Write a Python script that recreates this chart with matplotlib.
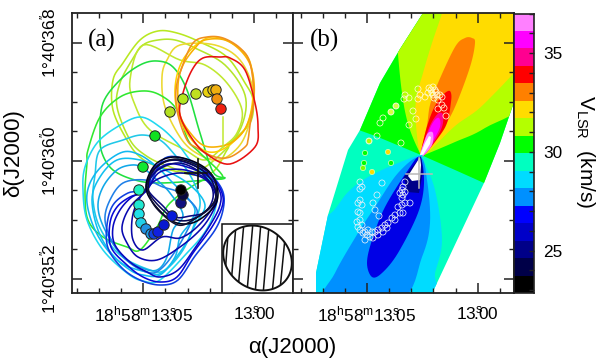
import numpy as np
import matplotlib
matplotlib.use("Agg")
import matplotlib.pyplot as plt
from matplotlib.colors import ListedColormap, BoundaryNorm
from matplotlib.patches import Polygon
from matplotlib.ticker import FixedLocator, FuncFormatter

plt.rcParams['font.family'] = ['Liberation Sans', 'DejaVu Sans']
plt.rcParams['mathtext.fontset'] = 'custom'
plt.rcParams['mathtext.rm'] = 'Liberation Sans'
plt.rcParams['mathtext.default'] = 'regular'

# ---- velocity colour scale (km/s), 16 channels from low to high
band_colors = ['#000000', '#000048', '#000088', '#0000c8', '#0000ff', '#0090ff', '#00dcff', '#00ffc0',
               '#00ff00', '#b4ff00', '#ffdc00', '#ff8000', '#ff0000', '#ff0090', '#ff00ff', '#ff80ff']
v_min, v_max = 22.85, 37.0
cbar_ticks = list(range(23, 38))
cbar_labels = {25: '25', 30: '30', 35: '35'}

# ---- positions digitised from the plate, as (x, y) readings
# calibration: 13.05 s at x0, 2214 readings per second; 36.0" at y=160.7, 147.5 readings per arcsec
X0_A, X0_B = 143.3, 367.0

# panel (b): model velocity field, lowest layer first
field_outline = [(316, 300), (316, 273), (328, 215), (348, 150), (360, 130), (380, 83), (400, 49), (423, 13),
                 (520, 13), (514, 102), (500, 143), (484, 183), (429, 300)]
layer_aqua = [(290, 5), (530, 5), (530, 300), (290, 300)]
layer_green = [(345, 125), (378, 137), (421, 155), (455, 170), (484, 183), (530, 190), (530, 5), (345, 5)]
layer_yellowgreen = [(421, 155), (409, 127), (402, 93), (397, 40), (397, 5), (530, 5), (530, 95), (485, 128),
                     (455, 142), (424, 155)]
layer_gold = [(420, 153), (416, 125), (416, 100), (423, 73), (432, 43), (442, 13), (442, 5), (530, 5), (530, 50),
              (485, 103), (455, 126), (427, 153)]
layer_orange = [(421, 152), (427, 125), (430, 105), (438, 83), (455, 47), (465, 38), (472, 38), (475, 43),
                (470, 67), (455, 107), (442, 130), (425, 154)]
layer_red = [(421, 153), (426, 130), (433, 110), (441, 97), (448, 91), (451, 93), (451, 102), (447, 123),
             (438, 138), (424, 155)]
layer_deeppink = [(421, 154), (427, 133), (433, 120), (439, 113), (443, 115), (442, 127), (434, 142), (424, 155)]
layer_magenta = [(421, 154), (428, 133), (434, 121), (439, 118), (440, 127), (432, 143), (424, 155)]
layer_pink = [(420, 155), (424, 142), (428, 133), (433, 133), (432, 145), (423, 156)]
layer_white = [(420, 155), (425, 143), (429, 136), (431, 137), (430, 144), (423, 155)]
layer_cyan = [(300, 215), (328, 215), (348, 192), (368, 177), (398, 163), (421, 155), (423, 160), (435, 190),
              (442, 240), (435, 273), (427, 300), (300, 300)]
layer_dodger = [(326, 300), (335, 273), (358, 233), (375, 207), (398, 173), (420, 157), (427, 180), (430, 223),
                (422, 257), (400, 300)]
layer_blue = [(372, 277), (367, 263), (372, 240), (385, 207), (408, 170), (420, 157), (424, 183), (418, 213),
              (398, 253), (382, 273)]
layer_navy = [(421, 156), (404, 177), (407, 192), (419, 193), (423, 172)]
layer_core = [(420, 157), (408, 176), (412, 181), (420, 180), (421, 165)]

field_layers = [(layer_aqua, '#00ffc0', False), (layer_green, '#00ff00', False), (layer_yellowgreen, '#b4ff00', True),
                (layer_gold, '#ffdc00', True), (layer_orange, '#ff8000', True), (layer_red, '#ff0000', True),
                (layer_deeppink, '#ff0090', True), (layer_magenta, '#ff00ff', True), (layer_pink, '#ff80ff', True),
                (layer_white, '#ffffff', False), (layer_cyan, '#00dcff', True), (layer_dodger, '#0090ff', True),
                (layer_blue, '#0000e6', True), (layer_navy, '#000088', False), (layer_core, '#ffffff', False)]

# panel (b): maser spots
rings_low = [(405, 182), (403, 187), (402, 190), (405, 192), (400, 193), (403, 195), (402, 198), (405, 203), (410, 203),
             (402, 205), (398, 207), (400, 213), (403, 213), (395, 215), (392, 218), (395, 220), (388, 223), (385, 225),
             (387, 228), (382, 228), (378, 230), (383, 232), (375, 232), (372, 232), (378, 235), (370, 237), (373, 238),
             (367, 235), (365, 232), (363, 233), (365, 240), (368, 230), (360, 230), (358, 227), (357, 222), (362, 225),
             (360, 220), (360, 213), (358, 212), (362, 205), (358, 203), (360, 200), (373, 203), (375, 210), (377, 195),
             (382, 183), (360, 182), (362, 187), (360, 189), (379, 216)]
rings_high = [(369, 141), (377, 136), (380, 123), (383, 118), (391, 112), (396, 106), (404, 99), (409, 98), (413, 111),
              (416, 119), (409, 125), (401, 143), (418, 89), (418, 99), (420, 95), (425, 97), (429, 88), (433, 87),
              (435, 90), (432, 93), (437, 95), (440, 95), (434, 98), (442, 97), (438, 100), (442, 105), (444, 108),
              (438, 109), (446, 116), (405, 95), (431, 90), (436, 92), (433, 95), (428, 93)]
dots_b = [(388, 152, '#ffdc00'), (372, 172, '#ffdc00'), (365, 153, '#00ff00'), (364, 163, '#00ff00'),
          (363, 168, '#80ff00'), (391, 163, '#00ff00'), (369, 141, '#b4ff00'), (391, 112, '#d8ff40'),
          (396, 106, '#d8ff40')]
cross_x = [406, 432]
cross_y = [158, 188]
cross_at = (419, 174.5)

# panel (a): channel contours (outermost/reddest drawn first)
c_yg1 = [(158, 31), (177, 33), (200, 42), (227, 57), (245, 83), (253, 100), (250, 123), (230, 143), (227, 150),
         (207, 175), (160, 167), (140, 157), (127, 140), (113, 110), (113, 80), (123, 63), (140, 40)]
c_yg2 = [(158, 40), (143, 45), (132, 60), (120, 83), (117, 107), (130, 140), (145, 155), (165, 165), (195, 172),
         (225, 150), (242, 125), (245, 95), (225, 65), (195, 48), (175, 40)]
c_yg3 = [(143, 45), (180, 60), (205, 65), (227, 83), (242, 110), (237, 133), (223, 147), (205, 160), (185, 150),
         (150, 130), (135, 105), (130, 80)]
c_yellow = [(180, 45), (167, 60), (162, 77), (165, 107), (182, 140), (200, 155), (220, 160), (240, 145), (250, 120),
            (253, 90), (240, 60), (215, 45)]
c_gold = [(200, 42), (215, 37), (235, 45), (250, 62), (253, 95), (247, 125), (232, 143), (215, 152), (200, 148),
          (185, 130), (176, 105), (176, 80), (184, 58)]
c_gold2 = [(205, 40), (225, 40), (242, 52), (252, 70), (254, 97), (247, 125), (235, 140), (222, 146), (205, 146),
           (192, 135), (180, 115), (178, 85), (183, 65), (195, 48)]
c_orange = [(207, 37), (223, 38), (240, 48), (250, 63), (254, 97), (250, 125), (248, 140), (245, 147), (230, 157),
            (215, 157), (197, 148), (187, 140), (178, 115), (176, 90), (182, 67), (193, 43)]
c_red = [(220, 57), (203, 58), (192, 70), (183, 93), (180, 115), (193, 140), (208, 155), (230, 164), (255, 147),
         (258, 127), (255, 103), (245, 70), (230, 58)]
c_green1 = [(157, 61), (140, 65), (120, 80), (103, 103), (100, 133), (102, 153), (113, 170), (135, 180), (160, 183),
            (207, 180), (225, 178), (213, 172), (200, 133), (187, 90), (173, 67)]
c_green2 = [(142, 91), (160, 95), (177, 110), (188, 140), (200, 153), (223, 177), (203, 180), (170, 203), (157, 227),
            (140, 250), (127, 247), (103, 237), (88, 220), (85, 193), (87, 163), (88, 150), (100, 117), (120, 97)]
c_cyan1 = [(140, 117), (117, 127), (97, 143), (85, 167), (83, 190), (87, 220), (103, 250), (127, 273), (143, 281),
           (160, 280), (187, 253), (205, 232), (215, 210), (216, 190), (205, 175), (190, 160), (177, 143), (160, 127)]
c_cyan2 = [(142, 135), (123, 140), (100, 150), (95, 175), (93, 200), (100, 228), (120, 255), (150, 270), (165, 270),
           (183, 250), (195, 222), (200, 200), (190, 175), (175, 155), (160, 140)]
c_sky1 = [(123, 152), (103, 165), (90, 183), (87, 203), (95, 230), (110, 253), (130, 270), (143, 275), (160, 275),
          (175, 257), (180, 237), (190, 223), (195, 210), (187, 197), (173, 183), (157, 167), (140, 155)]
c_sky2 = [(132, 165), (117, 170), (103, 187), (98, 207), (105, 230), (123, 257), (142, 268), (157, 270), (167, 257),
          (173, 230), (183, 215), (170, 193), (157, 180), (143, 168)]
c_sky3 = [(145, 180), (123, 183), (110, 200), (105, 220), (113, 243), (130, 263), (150, 273), (163, 267), (178, 247),
          (190, 225), (197, 210), (180, 193), (163, 187)]
c_sky4 = [(117, 160), (100, 177), (92, 200), (100, 235), (120, 262), (147, 272), (163, 272), (185, 245), (195, 225),
          (205, 205), (190, 185), (165, 170), (140, 160)]
c_blue3 = [(147, 188), (128, 193), (113, 205), (107, 225), (108, 248), (122, 268), (140, 280), (160, 285), (178, 280),
           (195, 256), (215, 230), (223, 210), (223, 192), (212, 176), (193, 162), (165, 158)]
c_blue1 = [(147, 190), (130, 197), (117, 207), (110, 223), (111, 247), (127, 265), (143, 277), (160, 282), (177, 277),
           (193, 253), (212, 227), (222, 207), (222, 193), (212, 177), (193, 165), (170, 160), (152, 170)]
c_blue2 = [(147, 190), (132, 197), (120, 210), (113, 227), (115, 245), (130, 262), (147, 272), (160, 277), (178, 270),
           (195, 248), (212, 222), (220, 205), (220, 192), (210, 178), (190, 168), (168, 164), (152, 175)]
c_blue4 = [(147, 190), (130, 207), (122, 227), (127, 243), (138, 257), (157, 260), (180, 247), (200, 230), (212, 213),
           (217, 197), (208, 180), (185, 170), (160, 172)]
c_blue5 = [(148, 187), (137, 203), (132, 220), (133, 240), (143, 250), (162, 237), (180, 238), (197, 227), (213, 207),
           (215, 193), (203, 178), (180, 173), (160, 178)]
c_navy1 = [(147, 185), (158, 170), (178, 163), (197, 170), (210, 183), (213, 198), (205, 212), (190, 216), (175, 217),
           (162, 205), (150, 193)]
c_navy2 = [(147, 183), (158, 166), (175, 160), (195, 166), (210, 178), (216, 195), (210, 208), (193, 219), (177, 220),
           (163, 210), (150, 195)]
c_black1 = [(147, 180), (157, 163), (175, 157), (197, 163), (212, 175), (218, 193), (213, 208), (195, 222), (177, 223),
            (162, 213), (148, 195)]
c_black2 = [(149, 178), (159, 165), (177, 159), (199, 166), (214, 178), (216, 195), (211, 206), (193, 220), (178, 225),
            (160, 212), (150, 197)]

contours_a = [(c_yg1, '#b8e820'), (c_yg2, '#b4e62a'), (c_yg3, '#c0e830'), (c_yellow, '#ecd830'), (c_green1, '#20e040'),
              (c_green2, '#30e830'), (c_gold, '#ffd000'), (c_gold2, '#f8b000'), (c_orange, '#f09020'), (c_red, '#e81010'),
              (c_cyan1, '#20d8f0'), (c_cyan2, '#20c8e8'), (c_sky1, '#10b8f0'), (c_sky4, '#10c0f0'), (c_sky2, '#10a8e8'),
              (c_sky3, '#2080e8'), (c_blue3, '#1040e0'), (c_blue1, '#0808d8'), (c_blue2, '#0808c0'), (c_blue4, '#0808b0'),
              (c_blue5, '#0808a8'), (c_navy1, '#080880'), (c_navy2, '#080850'), (c_black1, '#000018'), (c_black2, '#101030')]

spike_a = [(223, 117), (223, 147)]
spots_a = [(155, 136, '#10e020'), (170, 112, '#b4e020'), (183, 99, '#b4e820'), (196, 94, '#c0e020'), (208, 92, '#e8d010'),
           (213, 90, '#e8c810'), (216, 90, '#f0b010'), (217, 99, '#f09010'), (221, 109, '#f02010'),
           (143, 167, '#10e830'), (139, 190, '#20f0c0'), (139, 205, '#20e8d0'), (139, 214, '#20e0e8'), (141, 223, '#20d0e8'),
           (146, 229, '#2090e0'), (151, 234, '#20a0e8'), (154, 234, '#1040e0'), (158, 232, '#1020e0'), (164, 225, '#0818d0'),
           (172, 216, '#0818d8'), (181, 203, '#101080'), (183, 195, '#080840'), (181, 190, '#000000')]

beam_center = (257.5, 258)
beam_axes = (36.0, 30.5)
beam_angle = 35
hatch_lines = [((236, 225), (231, 285)), ((244, 222), (238, 290)), ((253, 222), (247, 292)), ((261, 222), (255, 295)),
               ((269, 226), (263, 295)), ((278, 230), (272, 295)), ((285, 238), (280, 290)), ((228, 235), (225, 275))]


def ra(px, x0):
    return 13.05 - (np.asarray(px, float) - x0) / 2214.0


def dec(py):
    return 36.0 + (160.7 - np.asarray(py, float)) / 147.5


def spline(pts, n=8):
    """Closed Catmull-Rom curve through the digitised vertices."""
    p = np.array(pts, float)
    out = []
    m = len(p)
    for i in range(m):
        p0, p1, p2, p3 = p[(i - 1) % m], p[i], p[(i + 1) % m], p[(i + 2) % m]
        for t in np.linspace(0, 1, n, endpoint=False):
            out.append(0.5 * (2 * p1 + (p2 - p0) * t + (2 * p0 - 5 * p1 + 4 * p2 - p3) * t ** 2
                              + (3 * p1 - p0 - 3 * p2 + p3) * t ** 3))
    return np.array(out)


W, H = 600, 362
fig = plt.figure(figsize=(W / 100, H / 100), dpi=100)


def axes_px(x0, y0, x1, y1):
    return fig.add_axes([x0 / W, 1 - y1 / H, (x1 - x0) / W, (y1 - y0) / H])


axa = axes_px(72, 13, 293, 293)
axb = axes_px(293, 13, 513.5, 293)
axc = axes_px(513.5, 13.5, 533.5, 293)


def style(ax, x0, x_left, x_right, show_y):
    ax.set_xlim(ra(x_left, x0), ra(x_right, x0))
    ax.set_ylim(dec(293), dec(13))
    ax.xaxis.set_major_locator(FixedLocator([13.05, 13.00]))
    ax.xaxis.set_minor_locator(FixedLocator([13.08, 13.07, 13.06, 13.04, 13.03, 13.02, 13.01, 12.99]))
    ax.yaxis.set_major_locator(FixedLocator([35.2, 36.0, 36.8]))
    ax.yaxis.set_minor_locator(FixedLocator([35.4, 35.6, 35.8, 36.2, 36.4, 36.6]))
    ax.tick_params(which='major', direction='in', top=True, right=True, length=7, width=1.1, labelsize=12.4, color='#222222')
    ax.tick_params(which='minor', direction='in', top=True, right=True, length=3.5, width=1.0, color='#222222')
    ax.xaxis.set_major_formatter(FuncFormatter(lambda v, p: (
        r'18$^{h}$58$^{m}$13$^{s}$$\!\!\!$.05' if abs(v - 13.05) < 1e-6 else r'13$^{s}$$\!\!\!$.00')))
    ax.tick_params(axis='x', which='major', pad=8)
    if show_y:
        ax.yaxis.set_major_formatter(FuncFormatter(lambda v, p: (
            "1°40'%d$''$$\\!\\!\\!$.%d" % (int(v), int(round((v - int(v)) * 10))))))
        ax.tick_params(axis='y', which='major', labelrotation=90, pad=10)
        for t in ax.yaxis.get_major_ticks():
            t.label1.set_va('center')
    else:
        ax.set_yticklabels([])
    for s in ax.spines.values():
        s.set_linewidth(1.3)
        s.set_color('#222222')


style(axa, X0_A, 72, 293, True)
style(axb, X0_B, 293, 513.5, False)

# panel (a)
for pts, col in contours_a:
    p = spline(pts)
    axa.add_patch(Polygon(np.c_[ra(p[:, 0], X0_A), dec(p[:, 1])], closed=True, fill=False, edgecolor=col, lw=1.15,
                          joinstyle='round'))
sp = np.array(spike_a, float)
axa.plot(ra(sp[:, 0], X0_A), dec(sp[:, 1]), color='#c0e830', lw=1.1)
spots = np.array([(s[0], s[1]) for s in spots_a], float)
axa.scatter(ra(spots[:, 0], X0_A), dec(spots[:, 1]), s=56, c=[s[2] for s in spots_a], edgecolors='#202020',
            linewidths=0.7, zorder=6)
axa.plot(ra([185, 207], X0_A), dec([173, 173]), color='#101010', lw=1.2, zorder=5)
axa.plot(ra([198, 198], X0_A), dec([159, 188]), color='#101010', lw=1.2, zorder=5)

# beam inset
axa.add_patch(Polygon(np.c_[ra([222, 222, 293, 293], X0_A), dec([293, 223.5, 223.5, 293])], closed=True, fc='white',
                      ec='#111111', lw=1.1, zorder=7))
t = np.linspace(0, 2 * np.pi, 200)
th = np.deg2rad(beam_angle)
ex = beam_center[0] + beam_axes[0] * np.cos(t) * np.cos(th) - beam_axes[1] * np.sin(t) * np.sin(th)
ey = beam_center[1] + beam_axes[0] * np.cos(t) * np.sin(th) + beam_axes[1] * np.sin(t) * np.cos(th)
beam = Polygon(np.c_[ra(ex, X0_A), dec(ey)], closed=True, fc='none', ec='#111111', lw=1.4, zorder=8)
axa.add_patch(beam)
for (x1, y1), (x2, y2) in hatch_lines:
    ln, = axa.plot(ra([x1, x2], X0_A), dec([y1, y2]), color='#111111', lw=1.1, zorder=8)
    ln.set_clip_path(beam)
axa.text(ra(88, X0_A), dec(40), '(a)', fontsize=18, family='Liberation Serif', va='center', ha='left', zorder=9)

# panel (b)
outline = np.array(field_outline, float)
clip = Polygon(np.c_[ra(outline[:, 0], X0_B), dec(outline[:, 1])], closed=True, transform=axb.transData, fc='none', ec='none')
axb.add_patch(clip)
for pts, col, smooth in field_layers:
    p = spline(pts) if smooth else np.array(pts, float)
    patch = Polygon(np.c_[ra(p[:, 0], X0_B), dec(p[:, 1])], closed=True, fc=col, ec='none')
    axb.add_patch(patch)
    patch.set_clip_path(clip)
dots = np.array([(d[0], d[1]) for d in dots_b], float)
axb.scatter(ra(dots[:, 0], X0_B), dec(dots[:, 1]), s=14, c=[d[2] for d in dots_b], edgecolors='#d8ffc0', linewidths=0.5, zorder=4)
low = np.array(rings_low, float)
high = np.array(rings_high, float)
axb.scatter(ra(low[:, 0], X0_B), dec(low[:, 1]), s=19, facecolors='none', edgecolors='#e8f0f8', linewidths=0.55, zorder=5)
axb.scatter(ra(high[:, 0], X0_B), dec(high[:, 1]), s=19, facecolors='none', edgecolors='#fff8d0', linewidths=0.55, zorder=5)
axb.plot(ra(cross_x, X0_B), dec([cross_at[1], cross_at[1]]), color='#b8b8b8', lw=1.1, zorder=6)
axb.plot(ra([cross_at[0], cross_at[0]], X0_B), dec(cross_y), color='#b8b8b8', lw=1.1, zorder=6)
axb.text(ra(310, X0_B), dec(40), '(b)', fontsize=18, family='Liberation Serif', va='center', ha='left')

# colour bar
edges = np.linspace(v_min, v_max, len(band_colors) + 1)
cmap = ListedColormap(band_colors)
axc.pcolormesh([0, 1], edges, np.arange(len(band_colors)).reshape(-1, 1), cmap=cmap,
               norm=BoundaryNorm(np.arange(-0.5, len(band_colors)), len(band_colors)))
axc.set_ylim(v_min, v_max)
axc.set_xticks([])
axc.yaxis.tick_right()
axc.yaxis.set_major_locator(FixedLocator(cbar_ticks))
axc.yaxis.set_major_formatter(FuncFormatter(lambda v, p: cbar_labels.get(int(round(v)), '')))
axc.tick_params(axis='y', direction='in', length=3.5, width=1.0, labelsize=12.4, pad=7, color='#222222')
for s in axc.spines.values():
    s.set_linewidth(1.2)
    s.set_color('#222222')

fig.text(14 / W, 1 - 153 / H, 'δ(J2000)', rotation=90, fontsize=16, ha='center', va='center')
fig.text(292 / W, 1 - 348 / H, 'α(J2000)', fontsize=16, ha='center', va='center')
fig.text(586 / W, 1 - 152 / H, r'V$_{LSR}$  (km/s)', rotation=270, fontsize=15, ha='center', va='center')

fig.savefig('out.png', dpi=100)
